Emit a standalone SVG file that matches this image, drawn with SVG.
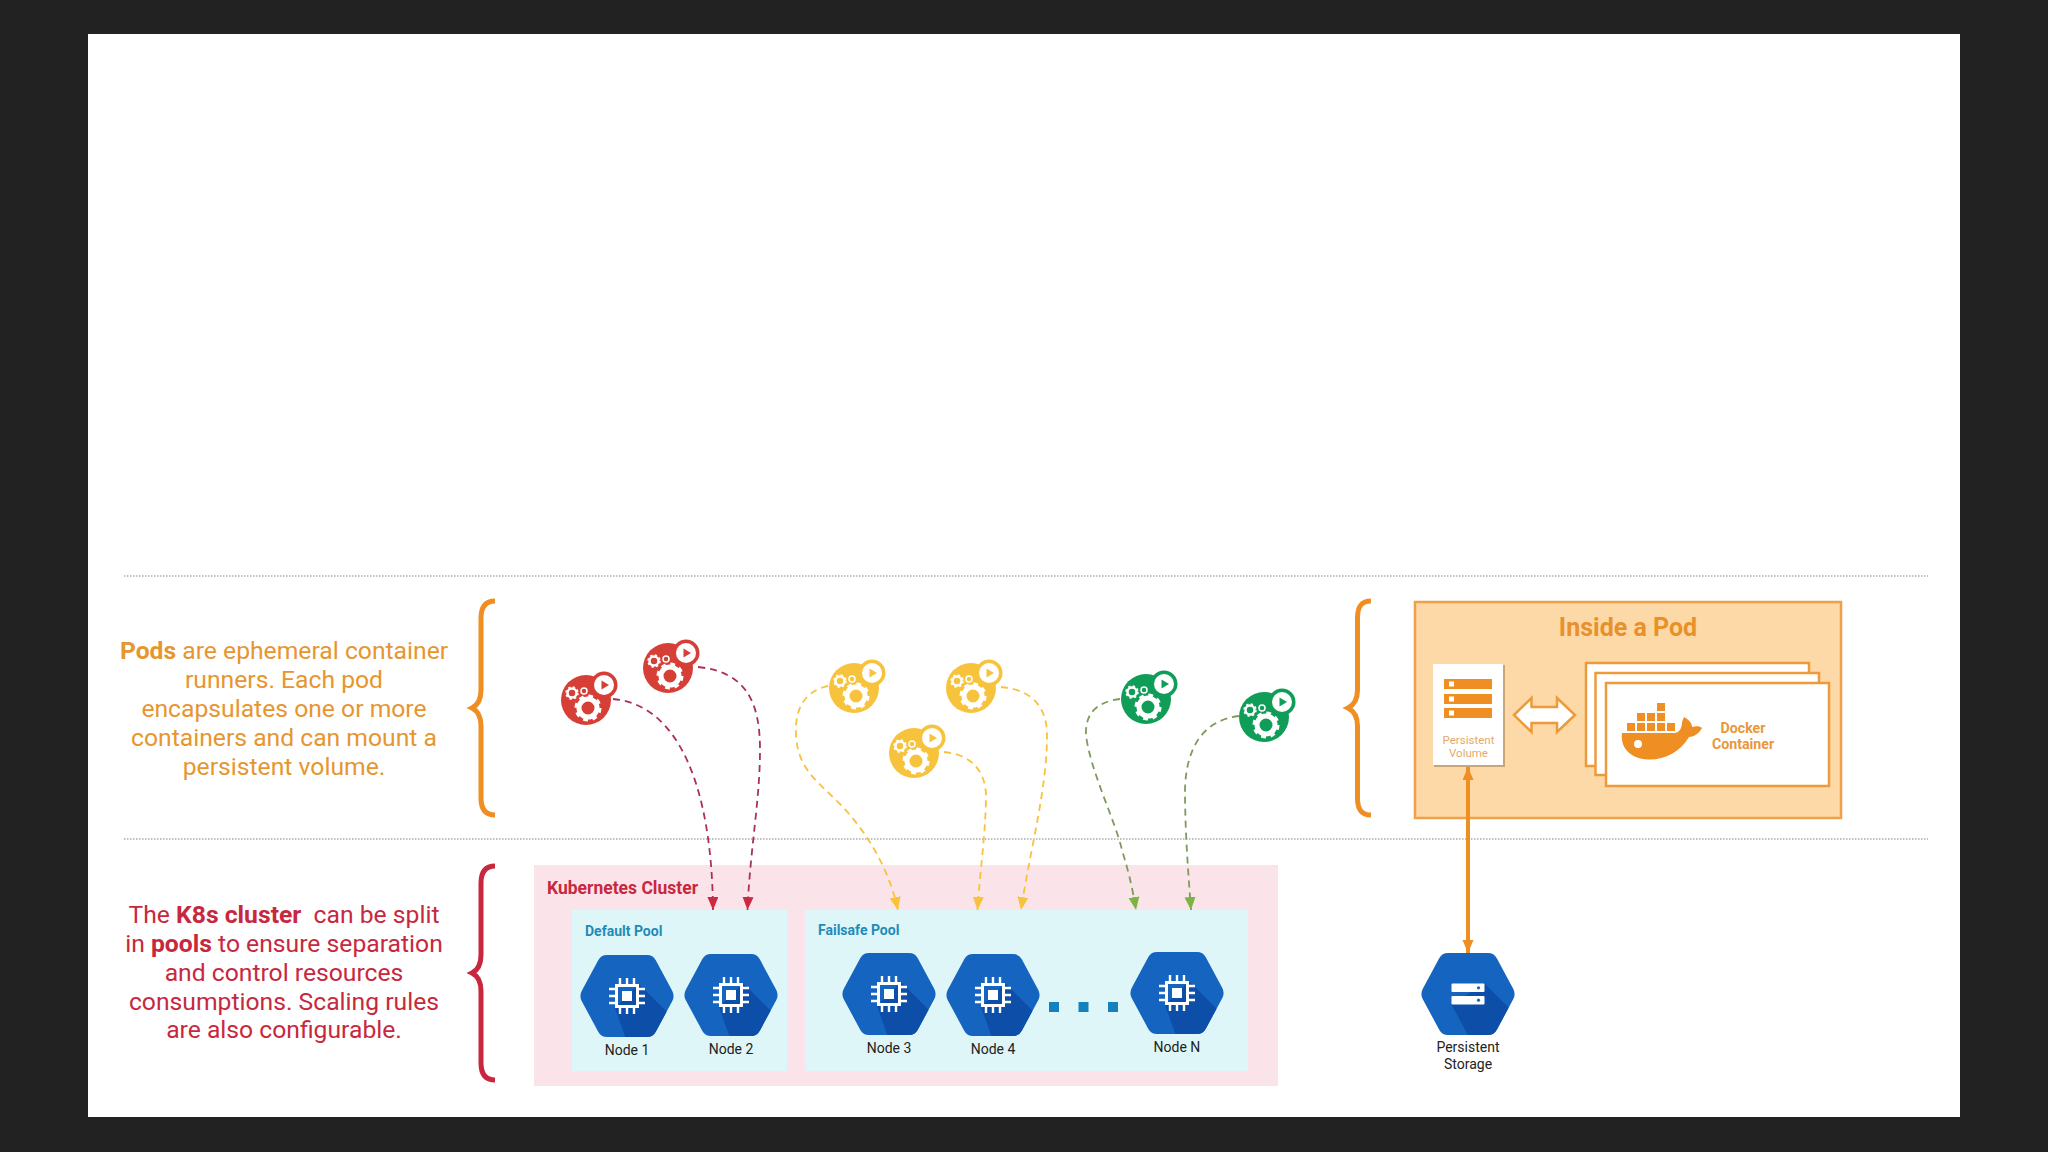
<svg xmlns="http://www.w3.org/2000/svg" width="2048" height="1152" viewBox="0 0 2048 1152">
<style>
text{font-family:Roboto,"Liberation Sans",sans-serif}
.big{font-size:24.700px;text-anchor:middle;white-space:pre}
.o{fill:#e6962f}.r{fill:#c8283e}
.b{font-weight:700}
.lbl{font-size:14px;fill:#222;text-anchor:middle}
.pool{font-size:14px;font-weight:700;fill:#1f8bb8}
.dot{stroke:#aaa;stroke-width:1.5;stroke-dasharray:1.5 1.5;fill:none}
.brace{fill:none;stroke-width:5;stroke-linecap:butt}
.flow{fill:none;stroke-width:1.800;stroke-dasharray:7 5}
.card{fill:#fff;stroke:#ee9a3a;stroke-width:2.500}
.sq{fill:#1480bd}
.wh{fill:#ee8e23}
</style>
<defs>
<marker id="aR" markerUnits="userSpaceOnUse" markerWidth="13" markerHeight="12" refX="13" refY="5.500" orient="auto"><path d="M0,0L13,5.500L0,11Z" fill="#cc2a40"/></marker>
<marker id="aY" markerUnits="userSpaceOnUse" markerWidth="13" markerHeight="12" refX="13" refY="5.500" orient="auto"><path d="M0,0L13,5.500L0,11Z" fill="#f7c33d"/></marker>
<marker id="aG" markerUnits="userSpaceOnUse" markerWidth="13" markerHeight="12" refX="13" refY="5.500" orient="auto"><path d="M0,0L13,5.500L0,11Z" fill="#7cb342"/></marker>
<marker id="aO" markerUnits="userSpaceOnUse" markerWidth="13" markerHeight="12" refX="13" refY="5.500" orient="auto-start-reverse"><path d="M0,0L13,5.500L0,11Z" fill="#ee8e23"/></marker>
<path id="hexp" d="M-45.200,-5.300L-28.800,-35.700Q-26,-41 -20,-41L20,-41Q26,-41 28.800,-35.700L45.200,-5.300Q48,0 45.200,5.300L28.800,35.700Q26,41 20,41L-20,41Q-26,41 -28.800,35.700L-45.200,5.300Q-48,0 -45.200,-5.300Z"/>
<clipPath id="hexc"><use href="#hexp"/></clipPath>
<g id="chip">
<use href="#hexp" fill="#1565c0"/>
<polygon points="12,-12 48,24 48,60 5,60 -12,12" fill="#0d4fa8" clip-path="url(#hexc)"/>
<rect x="-10.500" y="-10.500" width="21" height="21" fill="none" stroke="#fff" stroke-width="3"/>
<rect x="-5" y="-5" width="10" height="10" fill="#fff"/>
<path d="M-7,-12V-18M0,-12V-18M7,-12V-18M-7,12V18M0,12V18M7,12V18M-12,-7H-18M-12,0H-18M-12,7H-18M12,-7H18M12,0H18M12,7H18" stroke="#fff" stroke-width="2.400" fill="none"/>
</g>
<g id="pod">
<circle r="25" fill="currentColor"/>
<circle cx="18" cy="-15" r="13.500" fill="currentColor"/>
<circle cx="18" cy="-15" r="10" fill="#fff"/>
<path d="M15.500,-19.500L23,-15L15.500,-10.500Z" fill="currentColor"/>
<circle cx="2" cy="8" r="9" fill="none" stroke="#fff" stroke-width="5"/>
<circle cx="2" cy="8" r="12" fill="none" stroke="#fff" stroke-width="3" stroke-dasharray="4.710 4.710"/>
<circle cx="-14" cy="-7" r="4.500" fill="none" stroke="#fff" stroke-width="2.500"/>
<circle cx="-14" cy="-7" r="6" fill="none" stroke="#fff" stroke-width="1.500" stroke-dasharray="2.360 2.360"/>
<circle cx="-2" cy="-9" r="3" fill="none" stroke="#fff" stroke-width="1.500"/>
</g>
</defs>
<rect width="2048" height="1152" fill="#222"/>
<rect x="88" y="34" width="1872" height="1083" fill="#fff"/>
<path class="dot" d="M124,576H1928M124,839H1928"/>

<g id="pods-note">
<path class="brace" stroke="#ee8e23" d="M495,601C486,601 481,606 481,618V690C481,700 478,705 472,708C478,711 481,716 481,726V798C481,810 486,815 495,815"/>
<text class="big o" x="284" y="659"><tspan class="b">Pods</tspan> are ephemeral container</text>
<text class="big o" x="284" y="688">runners. Each pod</text>
<text class="big o" x="284" y="717">encapsulates one or more</text>
<text class="big o" x="284" y="746">containers and can mount a</text>
<text class="big o" x="284" y="775">persistent volume.</text>
</g>
<g id="cluster-note">
<path class="brace" stroke="#c8283e" d="M495,866C486,866 481,871 481,883V955C481,965 478,970 472,973C478,976 481,981 481,991V1063C481,1075 486,1080 495,1080"/>
<text class="big r" x="284" y="923">The <tspan class="b">K8s cluster</tspan>  can be split</text>
<text class="big r" x="284" y="952">in <tspan class="b">pools</tspan> to ensure separation</text>
<text class="big r" x="284" y="981">and control resources</text>
<text class="big r" x="284" y="1010">consumptions. Scaling rules</text>
<text class="big r" x="284" y="1038">are also configurable.</text>
</g>

<g id="cluster">
<rect x="534" y="865" width="744" height="221" fill="#fbe3ea"/>
<text x="547" y="894" font-size="17.500" font-weight="700" class="r">Kubernetes Cluster</text>
</g>
<g id="default-pool">
<rect x="572" y="910" width="215" height="161" fill="#dff6f8"/>
<text class="pool" x="585" y="936">Default Pool</text>
</g>
<g id="failsafe-pool">
<rect x="805" y="910" width="443" height="161" fill="#dff6f8"/>
<text class="pool" x="818" y="935">Failsafe Pool</text>
<rect class="sq" x="1049" y="1002" width="10" height="10"/>
<rect class="sq" x="1078.500" y="1002" width="10" height="10"/>
<rect class="sq" x="1108" y="1002" width="10" height="10"/>
</g>

<g id="node-1"><use href="#chip" x="627" y="996"/><text class="lbl" x="627" y="1055">Node 1</text></g>
<g id="node-2"><use href="#chip" x="731" y="995"/><text class="lbl" x="731" y="1054">Node 2</text></g>
<g id="node-3"><use href="#chip" x="889" y="994"/><text class="lbl" x="889" y="1053">Node 3</text></g>
<g id="node-4"><use href="#chip" x="993" y="995"/><text class="lbl" x="993" y="1054">Node 4</text></g>
<g id="node-n"><use href="#chip" x="1177" y="993"/><text class="lbl" x="1177" y="1052">Node N</text></g>
<g id="persistent-storage">
<use href="#hexp" x="1468" y="994" fill="#1565c0"/>
<g transform="translate(1468 994)">
<polygon points="16.500,-10.500 48,21 48,60 10,60 -16.500,10.500" fill="#0d4fa8" clip-path="url(#hexc)"/>
<rect x="-16.500" y="-10.500" width="33" height="8.500" rx="1" fill="#fff"/>
<rect x="-16.500" y="2" width="33" height="8.500" rx="1" fill="#fff"/>
<circle cx="10.500" cy="-6.200" r="1.600" fill="#1565c0"/>
<circle cx="10.500" cy="6.200" r="1.600" fill="#1565c0"/>
</g>
<text class="lbl" x="1468" y="1052">Persistent</text>
<text class="lbl" x="1468" y="1069">Storage</text>
</g>

<g id="inside-pod">
<path class="brace" stroke="#ee8e23" d="M1371,601C1362,601 1357.500,606 1357.500,618V690C1357.500,700 1354,705 1348,708C1354,711 1357.500,716 1357.500,726V798C1357.500,810 1362,815 1371,815"/>
<rect x="1415" y="602" width="426" height="216" fill="#fdd9a8" stroke="#f0a04a" stroke-width="2.500"/>
<text x="1628" y="636" font-size="25" font-weight="700" text-anchor="middle" fill="#e8912a">Inside a Pod</text>
</g>
<g id="persistent-volume">
<rect x="1434" y="665" width="71" height="102" fill="#c9a679"/>
<rect x="1433" y="664" width="70" height="101" fill="#fff"/>
<rect class="wh" x="1444" y="679" width="48" height="10"/>
<rect class="wh" x="1444" y="694" width="48" height="10"/>
<rect class="wh" x="1444" y="708" width="48" height="10"/>
<rect x="1449" y="681.500" width="5" height="5" fill="#fff"/>
<rect x="1449" y="696.500" width="5" height="5" fill="#fff"/>
<rect x="1449" y="710.500" width="5" height="5" fill="#fff"/>
<text x="1468.500" y="744" font-size="11.500" text-anchor="middle" fill="#e5aa6a">Persistent</text>
<text x="1468.500" y="757" font-size="11.500" text-anchor="middle" fill="#e5aa6a">Volume</text>
</g>
<g id="volume-link">
<path d="M1514,715L1531.500,698V707H1557V698L1575,715L1557,732V723H1531.500V732Z" fill="#fff" stroke="#ee9a3a" stroke-width="2.500"/>
</g>
<g id="docker-container">
<rect class="card" x="1586" y="663" width="223" height="103"/>
<rect class="card" x="1595.500" y="673" width="223.500" height="102"/>
<rect class="card" x="1606" y="683" width="223" height="103"/>
<path class="wh" d="M1657,703h8v8h-8zM1637,713h8v8h-8zM1647,713h8v8h-8zM1657,713h8v8h-8zM1627,723h8v8h-8zM1637,723h8v8h-8zM1647,723h8v8h-8zM1657,723h8v8h-8zM1667,723h8v8h-8z"/>
<path class="wh" d="M1622,733H1674C1680,733 1682,727 1682,722L1684,717C1690,720 1692,724 1692,727C1696,726 1700,726 1702,728C1699,734 1693,737 1689,737C1680,752 1665,760 1648,759.500C1630,759 1620,747 1622,733Z"/>
<circle cx="1638" cy="744" r="4" fill="#fff"/>
<text x="1743" y="733" font-size="14.200" font-weight="700" text-anchor="middle" fill="#e8973a">Docker</text>
<text x="1743" y="749" font-size="14.200" font-weight="700" text-anchor="middle" fill="#e8973a">Container</text>
</g>

<g id="pod-r1" color="#d63f35"><use href="#pod" x="586" y="700"/></g>
<g id="pod-r2" color="#d63f35"><use href="#pod" x="668" y="668"/></g>
<g id="pod-y1" color="#f7c33d"><use href="#pod" x="854" y="688"/></g>
<g id="pod-y2" color="#f7c33d"><use href="#pod" x="971" y="688"/></g>
<g id="pod-y3" color="#f7c33d"><use href="#pod" x="914" y="753"/></g>
<g id="pod-g1" color="#0f9d58"><use href="#pod" x="1146" y="699"/></g>
<g id="pod-g2" color="#0f9d58"><use href="#pod" x="1264" y="717"/></g>

<g id="connectors">
<path class="flow" stroke="#a8325a" marker-end="url(#aR)" d="M613,699C680,705 712,790 713,910"/>
<path class="flow" stroke="#a8325a" marker-end="url(#aR)" d="M698,667C745,672 760,700 760,750C760,800 750,850 747.500,910"/>
<path class="flow" stroke="#f7c33d" marker-end="url(#aY)" d="M828,686C800,692 795,715 796,735C798,775 825,785 850,815C875,845 890,875 898,910"/>
<path class="flow" stroke="#f7c33d" marker-end="url(#aY)" d="M944,752C975,755 987,775 986,800C985,840 980,870 977.500,910"/>
<path class="flow" stroke="#f7c33d" marker-end="url(#aY)" d="M1001,687C1035,690 1047,710 1047,735C1047,790 1030,850 1021,910"/>
<path class="flow" stroke="#7f9a5a" marker-end="url(#aG)" d="M1120,699C1095,702 1085,715 1086,735C1090,770 1115,820 1122,850C1128,870 1132,885 1136,910"/>
<path class="flow" stroke="#7f9a5a" marker-end="url(#aG)" d="M1239,716C1205,720 1186,745 1185,790C1185,830 1188,870 1191,910"/>
<path fill="none" stroke="#ee8e23" stroke-width="4" marker-start="url(#aO)" marker-end="url(#aO)" d="M1468,767V953"/>
</g>
</svg>
